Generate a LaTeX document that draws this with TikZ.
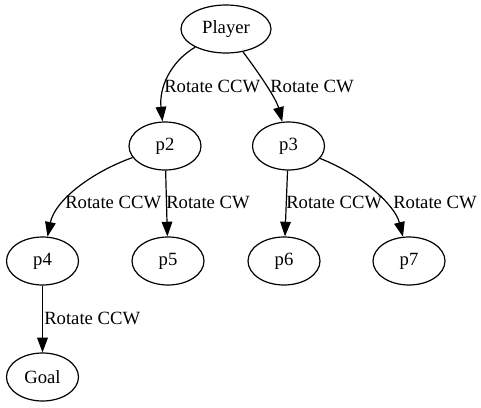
\documentclass[tikz,border=0pt]{standalone}
\usepackage{fontspec}
\setmainfont{Liberation Serif}
\usetikzlibrary{shapes.geometric,arrows.meta}
\begin{document}
\begin{tikzpicture}[x=0.75pt,y=-0.75pt,
  st/.style={ellipse,draw,line width=0.9pt,minimum width=54pt,minimum height=36pt,inner sep=1pt,font=\fontsize{14}{16}\selectfont},
  lab/.style={anchor=west,inner sep=0pt,font=\fontsize{14}{16}\selectfont},
  arr/.style={draw,line width=0.9pt,-{Triangle[length=11pt,width=8pt]}}]
\useasboundingbox (0,0) rectangle (481,407);
\node[st,minimum width=67.5pt] (Player) at (226,29) {Player};
\node[st] (p2) at (165,146) {p2};
\node[st] (p3) at (288.5,146) {p3};
\node[st] (p4) at (42.5,261) {p4};
\node[st] (p5) at (168,261) {p5};
\node[st] (p6) at (284,261) {p6};
\node[st] (p7) at (409,261) {p7};
\node[st] (Goal) at (42.5,377) {Goal};
\draw[arr] (Player) .. controls (170,62) and (159,88) .. (p2);
\draw[arr] (Player) .. controls (258,72) and (276,98) .. (p3);
\draw[arr] (p2) .. controls (92,172) and (55,200) .. (p4);
\draw[arr] (p2) -- (p5);
\draw[arr] (p3) -- (p6);
\draw[arr] (p3) .. controls (362,175) and (395,205) .. (p7);
\draw[arr] (p4) -- (Goal);
\node[lab] (l1) at (164,86) {Rotate CCW};
\node[lab] (l2) at (270,86) {Rotate CW};
\node[lab] (l3) at (65,202) {Rotate CCW};
\node[lab] (l4) at (166,202) {Rotate CW};
\node[lab] (l5) at (286,202) {Rotate CCW};
\node[lab] (l6) at (393,202) {Rotate CW};
\node[lab] (l7) at (44,318) {Rotate CCW};
\end{tikzpicture}
\end{document}
